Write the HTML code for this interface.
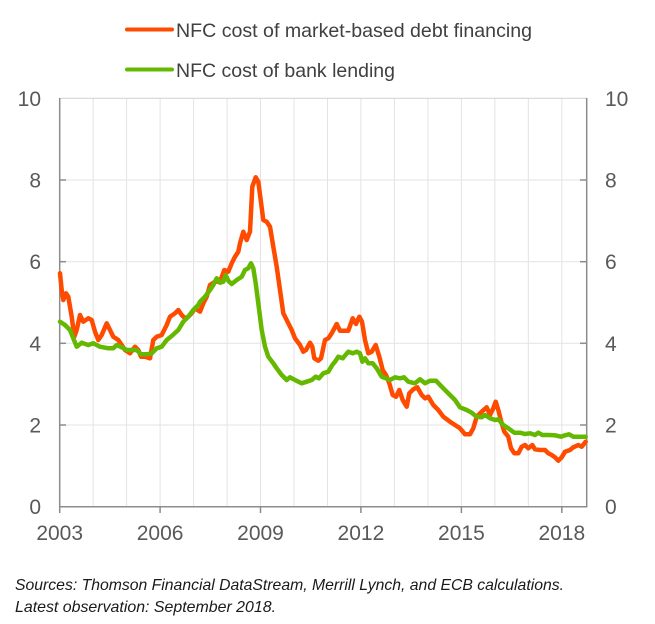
<!DOCTYPE html>
<html>
<head>
<meta charset="utf-8">
<style>
  html,body{margin:0;padding:0;background:#fff;}
  svg{display:block;}
</style>
</head>
<body>
<svg width="655" height="624" viewBox="0 0 655 624" xmlns="http://www.w3.org/2000/svg">
  <rect width="655" height="624" fill="#ffffff"/>
  <!-- legend -->
  <line x1="127" y1="29.5" x2="172" y2="29.5" stroke="#FF4B00" stroke-width="4" stroke-linecap="round"/>
  <text x="176" y="37" font-family="Liberation Sans, sans-serif" font-size="19.5" fill="#404040" textLength="356" lengthAdjust="spacingAndGlyphs">NFC cost of market-based debt financing</text>
  <line x1="127" y1="69.5" x2="172" y2="69.5" stroke="#65B800" stroke-width="4" stroke-linecap="round"/>
  <text x="176" y="77" font-family="Liberation Sans, sans-serif" font-size="19.5" fill="#404040" textLength="219" lengthAdjust="spacingAndGlyphs">NFC cost of bank lending</text>

  <!-- vertical gridlines -->
  <g stroke="#e3e3e3" stroke-width="1">
    <line x1="93.2" y1="98.3" x2="93.2" y2="506.7"/>
    <line x1="126.6" y1="98.3" x2="126.6" y2="506.7"/>
    <line x1="160.1" y1="98.3" x2="160.1" y2="506.7"/>
    <line x1="193.6" y1="98.3" x2="193.6" y2="506.7"/>
    <line x1="227.1" y1="98.3" x2="227.1" y2="506.7"/>
    <line x1="260.5" y1="98.3" x2="260.5" y2="506.7"/>
    <line x1="294.0" y1="98.3" x2="294.0" y2="506.7"/>
    <line x1="327.5" y1="98.3" x2="327.5" y2="506.7"/>
    <line x1="360.9" y1="98.3" x2="360.9" y2="506.7"/>
    <line x1="394.4" y1="98.3" x2="394.4" y2="506.7"/>
    <line x1="427.9" y1="98.3" x2="427.9" y2="506.7"/>
    <line x1="461.4" y1="98.3" x2="461.4" y2="506.7"/>
    <line x1="494.8" y1="98.3" x2="494.8" y2="506.7"/>
    <line x1="528.3" y1="98.3" x2="528.3" y2="506.7"/>
    <line x1="561.8" y1="98.3" x2="561.8" y2="506.7"/>
  </g>
  <!-- horizontal gridlines -->
  <g stroke="#e3e3e3" stroke-width="1">
    <line x1="60" y1="180" x2="587" y2="180"/>
    <line x1="60" y1="261.7" x2="587" y2="261.7"/>
    <line x1="60" y1="343.3" x2="587" y2="343.3"/>
    <line x1="60" y1="425" x2="587" y2="425"/>
  </g>
  <line x1="60" y1="98.3" x2="587" y2="98.3" stroke="#d6d6d6" stroke-width="1.2"/>

  <!-- axes -->
  <g stroke="#8c8c8c" stroke-width="1.5" fill="none">
    <line x1="59.7" y1="98" x2="59.7" y2="507"/>
    <line x1="586.7" y1="98" x2="586.7" y2="507"/>
    <line x1="59" y1="506.7" x2="587.4" y2="506.7"/>
    <line x1="59.7" y1="180" x2="66" y2="180"/>
    <line x1="59.7" y1="261.7" x2="66" y2="261.7"/>
    <line x1="59.7" y1="343.3" x2="66" y2="343.3"/>
    <line x1="59.7" y1="425" x2="66" y2="425"/>
    <line x1="580" y1="180" x2="586.7" y2="180"/>
    <line x1="580" y1="261.7" x2="586.7" y2="261.7"/>
    <line x1="580" y1="343.3" x2="586.7" y2="343.3"/>
    <line x1="580" y1="425" x2="586.7" y2="425"/>
    <line x1="59.7" y1="506.7" x2="59.7" y2="513"/>
    <line x1="160.1" y1="506.7" x2="160.1" y2="513"/>
    <line x1="260.5" y1="506.7" x2="260.5" y2="513"/>
    <line x1="360.9" y1="506.7" x2="360.9" y2="513"/>
    <line x1="461.4" y1="506.7" x2="461.4" y2="513"/>
    <line x1="561.8" y1="506.7" x2="561.8" y2="513"/>
  </g>

  <!-- series -->
  <polyline fill="none" stroke="#FF4B00" stroke-width="4.5" stroke-linejoin="round" stroke-linecap="round" points="60,273.3 61.7,290 63.3,300 66,293.3 68.3,296.7 71.7,316.7 74.3,336.7 76.7,330 80,315 83.3,321.7 88.3,318.3 91.7,320 95,331.7 98.3,340 101.7,335 106.7,323.3 110,330 113.3,336.7 118.3,340 121.7,345 125,350 130,353.3 135,346.7 138.3,350 141,356.7 145,356.7 150,358.3 153.3,340 156.7,336.7 161.7,335 166.7,325 170,316.7 175,313.3 178.3,310 181.7,315 185,318.3 188.3,316.7 191.7,313.3 195,308.3 200,311.7 203.3,303.3 206.7,296.7 210,285 215,281.7 220,281.7 224.3,270 228.3,271.7 231.7,263.3 235,256.7 238.3,251.7 240,243.3 243.3,231.7 246.7,240 250,231.7 252.3,186.7 255.7,177.3 258.3,181.7 260.7,200 263.3,220 266.7,221.7 270,226.7 273.3,246.7 276.7,266.7 280,290 283.3,313.3 288.3,323.3 291.7,330 295,338.3 300,345 303.3,351.7 306,350 310,342.7 312.3,346.7 314.3,358.3 318.3,360.7 321,358.3 325,340 328.3,338.3 331.7,333.3 336.7,324 340,330.7 343.3,330.7 348.3,330.7 352.7,318.3 356,324 359.3,316.7 362,321.7 365,340 368.3,353.3 371.7,351.7 375.7,345 379.3,356.7 382.7,370 386,375 389.3,383.3 392.7,395 396,396.7 399.3,390 402.7,400 406.7,406.7 409.3,393.3 413.3,389.3 417.3,387.3 421.7,395 425,398.3 428.3,396.7 433.3,405 438.3,410 443.3,416.7 450,421.7 455,425 460,428.3 465,434.3 470,434.3 473.3,428.3 476.7,416.7 481.7,411.7 486.7,407.3 490,415 493.3,408.3 495.7,401.7 498.3,410 501.7,423.3 504.3,431.7 508.3,436.7 511,448.3 514.3,453.3 518.3,453.3 521.7,446.7 525,445 528.3,448.3 532.3,445 535,449.3 540,450 545,450 548.3,453.3 551.7,455 555,457.3 558.3,460.7 561.7,457.3 565,451.7 570,450 573.3,447.3 578.3,445 581.7,446.7 585.7,441.7"/>
  <polyline fill="none" stroke="#65B800" stroke-width="4.5" stroke-linejoin="round" stroke-linecap="round" points="60,321.7 65,325 70,330 73.3,338.3 76.7,346.7 81.7,342.7 88.3,345 93.3,343.3 100,346.7 108.3,348.3 113.3,348.3 116.7,345 121.7,347.3 126.7,350 133.3,350 136.7,350 141,354.3 146.7,354.3 151.7,353.3 156.7,348.3 161.7,346.7 166.7,340 171.7,336 178.3,330 183.3,321.7 188.3,316.7 193.3,310 198.3,305 200,301.7 205,296.7 210,290 213.3,285 216.7,278.3 220,282.7 223.3,281.7 225.7,275 228.3,280.7 231.7,284 236.7,280 241.7,276.7 245,270 248.3,268.3 251,263.3 253.3,268.3 255.7,283.3 258.3,303.3 261.7,330 265,346.7 268.3,356.7 273.3,363.3 276.7,368.3 281.7,375 286.7,380 290,377.3 295,380 301.7,383.3 306.7,381.7 311.7,380 315.7,376.7 319,378.3 323.3,373.3 328.3,371.7 332.3,365 335,361.7 338.3,356.7 342.7,358.3 348.3,351.7 352.7,353.3 356.7,351.7 360,353.3 362.3,361.7 365,358.3 368.3,363.3 372.7,363.3 376.7,368.3 381.7,376.7 386,378.3 390,380 395,377.3 400,378.3 404,377.3 408.3,381.7 415,383.3 420,379.3 425,383.3 430,380.7 436,380.7 441.7,386.7 448.3,393.3 455,400 460,407.3 466.7,410 471.7,412.7 476.7,416.7 481.7,417.3 485,415 490,418.3 495,420 498.3,419.3 503.3,425 508.3,428.3 514.3,432.7 520,432.7 525,434 530,433.3 535,435 538.3,432.7 542.3,435 548.3,435 555,435.3 561,436.7 565,435.3 569,434.3 573.3,436.7 578.3,436.7 585.7,436.7"/>

  <!-- y labels left -->
  <g font-family="Liberation Sans, sans-serif" font-size="21" fill="#595959" text-anchor="end">
    <text x="41" y="106">10</text>
    <text x="41" y="187.5">8</text>
    <text x="41" y="269.2">6</text>
    <text x="41" y="350.8">4</text>
    <text x="41" y="432.5">2</text>
    <text x="41" y="514.2">0</text>
  </g>
  <!-- y labels right -->
  <g font-family="Liberation Sans, sans-serif" font-size="21" fill="#595959" text-anchor="start">
    <text x="605" y="106">10</text>
    <text x="605" y="187.5">8</text>
    <text x="605" y="269.2">6</text>
    <text x="605" y="350.8">4</text>
    <text x="605" y="432.5">2</text>
    <text x="605" y="514.2">0</text>
  </g>
  <!-- x labels -->
  <g font-family="Liberation Sans, sans-serif" font-size="21" fill="#595959" text-anchor="middle">
    <text x="59.7" y="540">2003</text>
    <text x="160.1" y="540">2006</text>
    <text x="260.5" y="540">2009</text>
    <text x="360.9" y="540">2012</text>
    <text x="461.4" y="540">2015</text>
    <text x="561.8" y="540">2018</text>
  </g>

  <!-- sources -->
  <g font-family="Liberation Sans, sans-serif" font-size="16" font-style="italic" fill="#1a1a1a">
    <text x="15" y="590" textLength="549" lengthAdjust="spacingAndGlyphs">Sources: Thomson Financial DataStream, Merrill Lynch, and ECB calculations.</text>
    <text x="15" y="612" textLength="261" lengthAdjust="spacingAndGlyphs">Latest observation: September 2018.</text>
  </g>
</svg>
</body>
</html>
